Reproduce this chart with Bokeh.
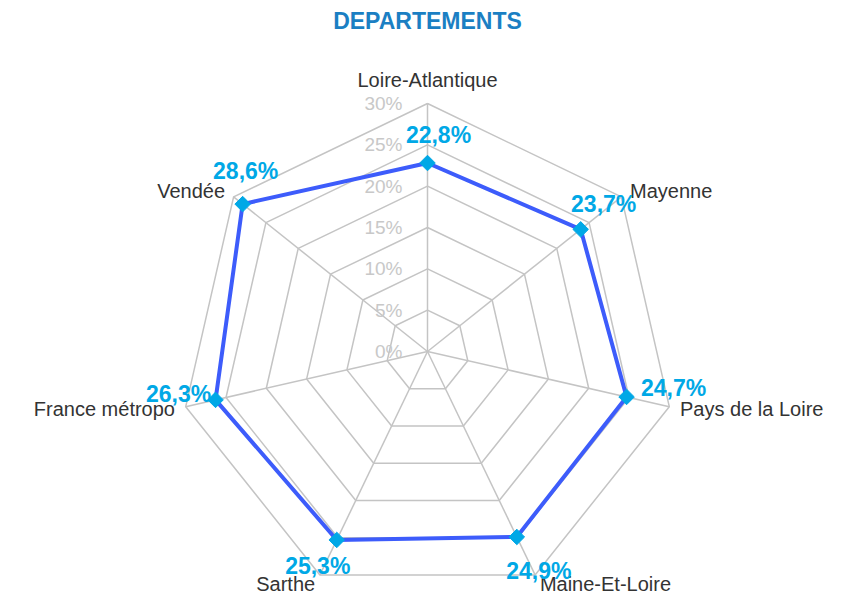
import math
from bokeh.plotting import figure
from bokeh.models import Range1d, ColumnDataSource, Label
from bokeh.core.properties import value
from bokeh.embed import file_html
from bokeh.resources import INLINE

# ---- data ----
title_text = "DEPARTEMENTS"
categories = ["Loire-Atlantique", "Mayenne", "Pays de la Loire", "Maine-Et-Loire",
              "Sarthe", "France métropo", "Vendée"]
values = [22.8, 23.7, 24.7, 24.9, 25.3, 26.3, 28.6]
value_labels = ["22,8%", "23,7%", "24,7%", "24,9%", "25,3%", "26,3%", "28,6%"]
ring_values = [0, 5, 10, 15, 20, 25, 30]
ring_labels = ["0%", "5%", "10%", "15%", "20%", "25%", "30%"]

# ---- style ----
W, H = 829, 596
CX, CY = 427, 351            # centre in canvas pixels (from top-left)
R_PX = 248                   # pixel radius of the 30% ring
RMAX = 30.0
k = R_PX / RMAX
FONT_NAME = "Liberation Sans"
FONT = value(FONT_NAME)
GRID = "#c4c4c4"
LINE = "#3d5cfb"
MARK = "#00a8e6"
# pixel nudges for the value labels (style only)
val_dx = [11, 23, 47, 22, -19, -37, 3]
val_dy = [-28, -25, -9, 34, 26, -6, -33]

p = figure(width=W, height=H, output_backend="svg", toolbar_location=None,
           x_range=Range1d(-CX / k, (W - CX) / k),
           y_range=Range1d(-(H - CY) / k, CY / k),
           min_border=0)
p.axis.visible = False
p.grid.visible = False
p.outline_line_color = None
p.background_fill_color = "white"
p.border_fill_color = "white"

n = len(categories)
ang = [math.pi / 2 - 2 * math.pi * i / n for i in range(n)]

# rings
rings_x, rings_y = [], []
for r in ring_values[1:]:
    xs = [r * math.cos(a) for a in ang] + [r * math.cos(ang[0])]
    ys = [r * math.sin(a) for a in ang] + [r * math.sin(ang[0])]
    rings_x.append(xs)
    rings_y.append(ys)
p.multi_line(rings_x, rings_y, line_color=GRID, line_width=1.5)

# spokes
p.segment(x0=[0] * n, y0=[0] * n,
          x1=[RMAX * math.cos(a) for a in ang],
          y1=[RMAX * math.sin(a) for a in ang],
          line_color=GRID, line_width=1.5)

# ring tick labels
p.text(x=[0] * len(ring_values), y=ring_values, text=ring_labels,
       x_offset=-25, text_align="right", text_baseline="middle",
       text_font=FONT, text_font_size="19px", text_color="#c8c8c8")

# category labels
cx, cy, al, bl, xo, yo = [], [], [], [], [], []
for a in ang:
    c, s = math.cos(a), math.sin(a)
    cx.append(RMAX * c)
    cy.append(RMAX * s)
    al.append("left" if c > 0.2 else ("right" if c < -0.2 else "center"))
    bl.append("bottom" if s > 0.9 else "middle")
    xo.append(11 * c)
    yo.append(-13 if s > 0.9 else -10 * s)
cat_src = ColumnDataSource(dict(x=cx, y=cy, text=categories, align=al, base=bl, xo=xo, yo=yo))
p.text(x="x", y="y", text="text", source=cat_src, text_align="align",
       text_baseline="base", x_offset="xo", y_offset="yo",
       text_font=FONT, text_font_size="20px", text_color="#333333")

# series
px = [v * math.cos(a) for v, a in zip(values, ang)]
py = [v * math.sin(a) for v, a in zip(values, ang)]
p.line(px + [px[0]], py + [py[0]], line_color=LINE, line_width=4, line_join="round")
p.scatter(px, py, marker="square", size=11, angle=math.pi / 4,
          fill_color=MARK, line_color=MARK)

val_src = ColumnDataSource(dict(x=px, y=py, text=value_labels, dx=val_dx, dy=val_dy))
p.text(x="x", y="y", text="text", source=val_src, x_offset="dx", y_offset="dy",
       text_align="center", text_baseline="middle",
       text_font=FONT, text_font_size="23px", text_font_style="bold",
       text_color=MARK)

# title
p.add_layout(Label(x=0, y=(CY - 20) / k, text=title_text, text_align="center",
                   text_baseline="middle", text_font=FONT_NAME, text_font_size="23px",
                   text_font_style="bold", text_color="#1b7fc3"))

open("out.html", "w").write(file_html(p, INLINE))
